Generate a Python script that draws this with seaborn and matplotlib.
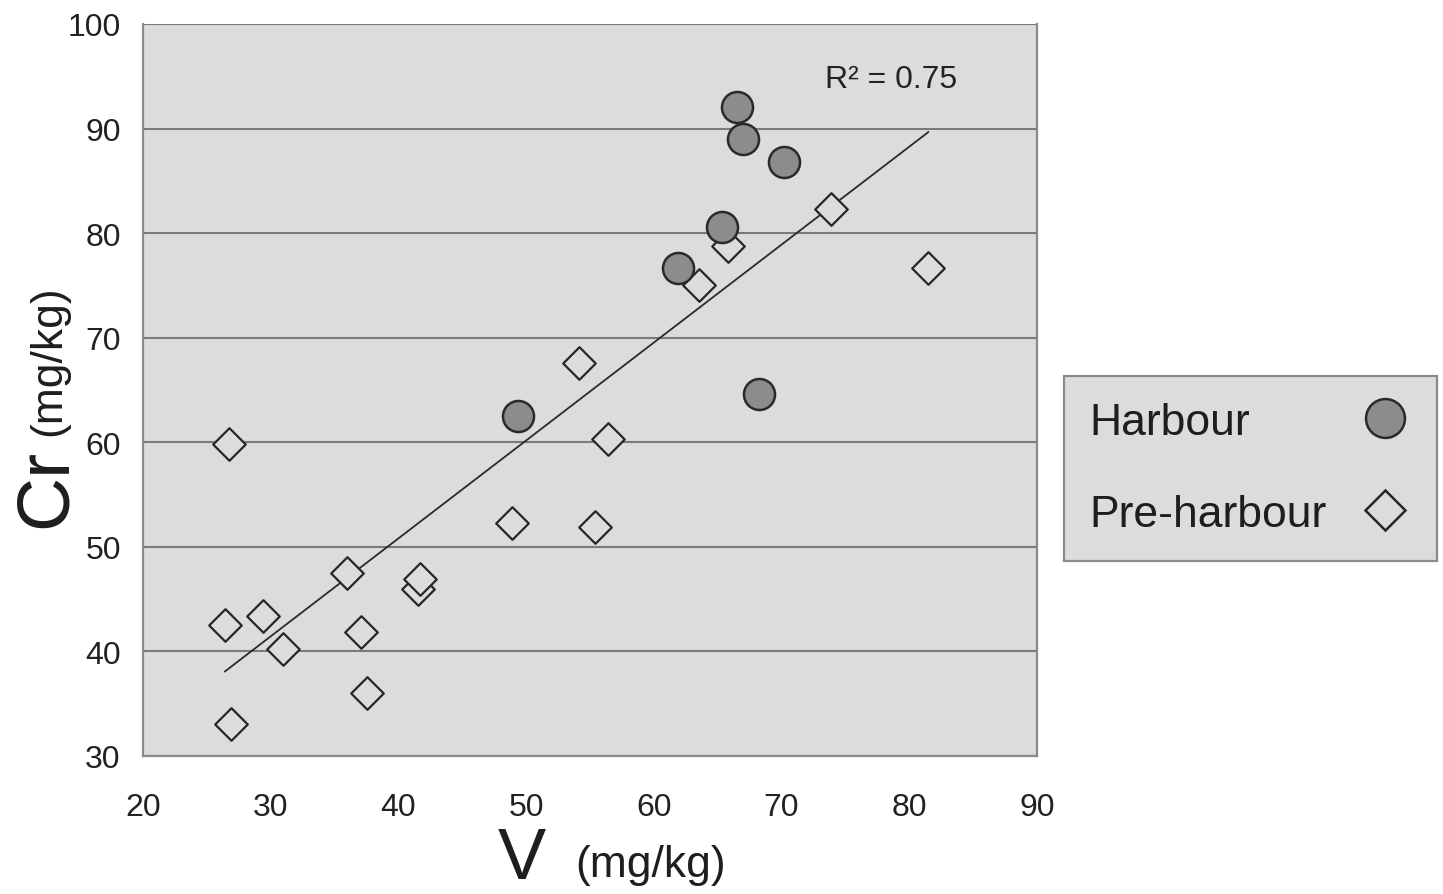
import numpy as np
import pandas as pd
import matplotlib
matplotlib.use("Agg")
import matplotlib.pyplot as plt
from matplotlib.lines import Line2D
import seaborn as sns

# ---- data ----
harbour_v = [66.5, 67.0, 70.2, 65.3, 61.9, 49.4, 68.2]
harbour_cr = [92.1, 89.0, 86.8, 80.6, 76.7, 62.5, 64.6]

pre_v = [26.7, 26.4, 26.9, 29.4, 31.0, 36.0, 37.1, 37.5, 41.5, 41.7,
         48.9, 54.1, 55.4, 56.4, 63.5, 65.8, 73.9, 81.5]
pre_cr = [59.8, 42.5, 33.1, 43.4, 40.2, 47.5, 41.9, 36.0, 46.0, 46.9,
          52.3, 67.6, 51.9, 60.3, 75.0, 78.8, 82.3, 76.7]

x_ticks = [20, 30, 40, 50, 60, 70, 80, 90]
y_ticks = [30, 40, 50, 60, 70, 80, 90, 100]
r2_label = "R² = 0.75"
legend_labels = ["Harbour", "Pre-harbour"]

harbour = pd.DataFrame({"V": harbour_v, "Cr": harbour_cr})
pre = pd.DataFrame({"V": pre_v, "Cr": pre_cr})
both = pd.concat([harbour, pre], ignore_index=True)

# ---- style ----
sns.set_style("white")
plt.rcParams["font.family"] = ["Liberation Sans", "DejaVu Sans"]

W, H = 1443, 895
DPI = 100
fig = plt.figure(figsize=(W / DPI, H / DPI), dpi=DPI)
ax = fig.add_axes([143 / W, 1 - 757 / H, (1037 - 143) / W, (757 - 25) / H])

bg = "#dcdcdc"
ink = "#1e1e1e"
ax.set_facecolor(bg)

# regression line
sns.regplot(data=both, x="V", y="Cr", scatter=False, ci=None, truncate=True,
            ax=ax, line_kws=dict(color="#2a2a2a", lw=1.3, zorder=3))

# markers
sns.scatterplot(data=pre, x="V", y="Cr", marker="D", s=275, facecolor=bg,
                edgecolor="#262626", linewidth=1.6, ax=ax, zorder=4, legend=False)
sns.scatterplot(data=harbour, x="V", y="Cr", marker="o", s=500, color="#8c8c8c",
                edgecolor="#2a2a2a", linewidth=1.8, ax=ax, zorder=5, legend=False)

ax.set_xlim(20, 90)
ax.set_ylim(30, 100)
ax.set_xticks(x_ticks)
ax.set_yticks(y_ticks)
ax.set_xlabel("")
ax.set_ylabel("")

ax.yaxis.grid(True, color="#7a7a7a", lw=1.5)
ax.xaxis.grid(False)
ax.set_axisbelow(True)
for side, sp in ax.spines.items():
    sp.set_color("#8a8a8a")
    sp.set_linewidth(1.6)
ax.spines["top"].set_visible(False)

ax.tick_params(axis="both", which="major", direction="out", length=8,
               width=1.3, color="#8a8a8a", labelsize=23, labelcolor="#222222")
ax.tick_params(axis="y", pad=8)
ax.tick_params(axis="x", pad=18)

# R^2 text
ax.text(825 / W, 1 - 88 / H, r2_label, transform=fig.transFigure, fontsize=23,
        color="#222222", ha="left", va="baseline")

# axis titles (mixed sizes, as in the reference)
fig.text(66 / W, 1 - 528 / H, "Cr", fontsize=54, rotation=90, rotation_mode="anchor",
         ha="left", va="baseline", color=ink)
fig.text(60 / W, 1 - 436 / H, "(mg/kg)", fontsize=32, rotation=90, rotation_mode="anchor",
         ha="left", va="baseline", color=ink)
fig.text(498 / W, 1 - 879 / H, "V", fontsize=52, ha="left", va="baseline", color=ink)
fig.text(575 / W, 1 - 877 / H, "(mg/kg)", fontsize=32, ha="left", va="baseline", color=ink)

# legend
handles = [
    Line2D([], [], ls="none", marker="o", ms=28, mfc="#8c8c8c", mec="#2a2a2a", mew=1.8),
    Line2D([], [], ls="none", marker="D", ms=20, mfc=bg, mec="#262626", mew=1.8),
]
leg = ax.legend(handles, legend_labels, loc="upper left",
                bbox_to_anchor=(1064 / W, 1 - 377 / H), bbox_transform=fig.transFigure,
                borderaxespad=0, markerfirst=False, frameon=True, fancybox=False,
                fontsize=32, handlelength=1.2, handletextpad=0.7, borderpad=0.58,
                labelspacing=1.15)
frame = leg.get_frame()
frame.set_facecolor(bg)
frame.set_edgecolor("#8a8a8a")
frame.set_linewidth(1.6)
frame.set_alpha(1)
for t in leg.get_texts():
    t.set_color(ink)

# left-align the labels while keeping the markers in one right-hand column
fig.canvas.draw()
renderer = fig.canvas.get_renderer()
widths = [t.get_window_extent(renderer).width for t in leg.get_texts()]
wmax = max(widths)
rows = leg._legend_handle_box.get_children()[0].get_children()
for row, w in zip(rows, widths):
    row.sep += (wmax - w) * 72.0 / DPI

fig.savefig("out.png", dpi=DPI, facecolor="white")
